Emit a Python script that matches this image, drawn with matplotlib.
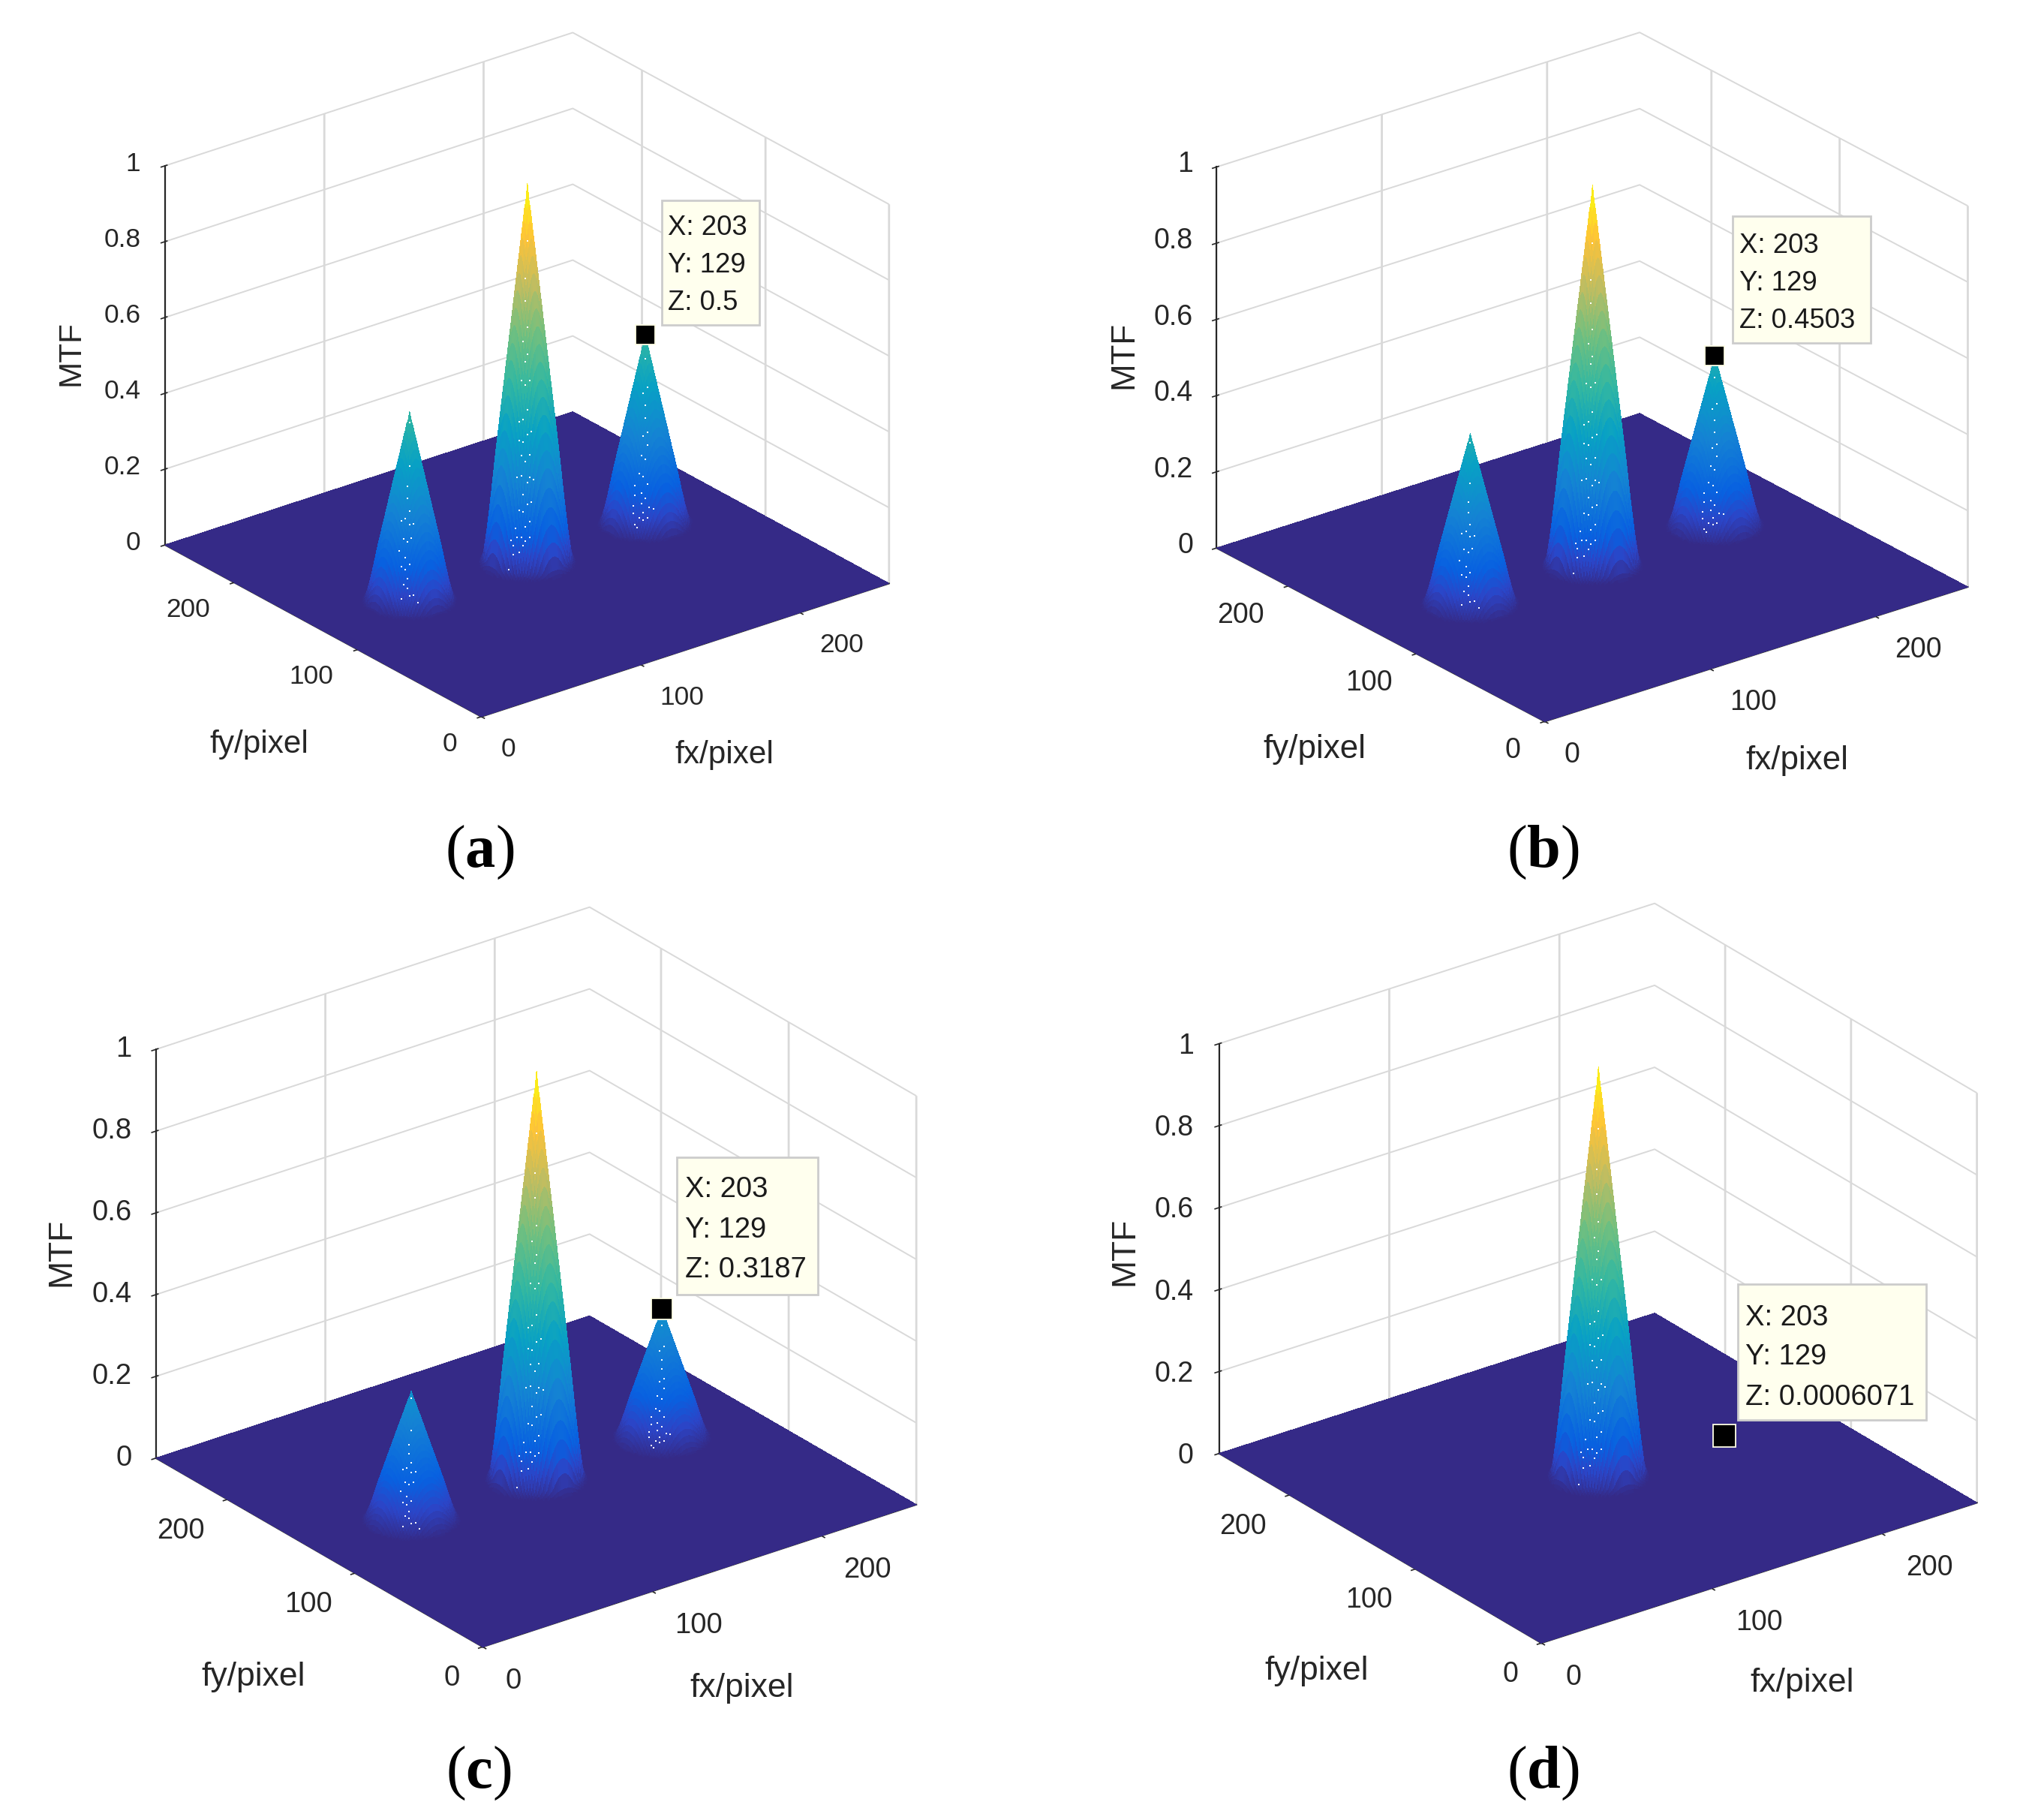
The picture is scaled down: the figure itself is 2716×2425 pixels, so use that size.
import numpy as np
import matplotlib
matplotlib.use('Agg')
import matplotlib.pyplot as plt
from matplotlib.colors import LinearSegmentedColormap
from matplotlib.patches import Rectangle
from mpl_toolkits.mplot3d import proj3d

plt.rcParams['font.family'] = ['Liberation Sans', 'DejaVu Sans']
plt.rcParams['mathtext.fontset'] = 'custom'
plt.rcParams['mathtext.rm'] = 'Liberation Serif'
plt.rcParams['mathtext.bf'] = 'Liberation Serif:bold'

W, H = 2716, 2425
S = 2716 / 1568

# ---- data ----
panel_names = ['a', 'b', 'c', 'd']
peak_x = [55, 129, 203]
peak_y = [129, 129, 129]
peak_a = [0.5, 1.0, 0.5]
peak_b = [0.4503, 1.0, 0.4503]
peak_c = [0.3187, 1.0, 0.3187]
peak_d = [0.0006071, 1.0, 0.0006071]
tip_z = [0.5, 0.4503, 0.3187, 0.0006071]
tip_text = ['0.5', '0.4503', '0.3187', '0.0006071']
tip_x, tip_y = 203, 129
radial_r = [0, 2, 4, 8, 12, 16, 18, 20, 22, 24]
radial_z = [1.0, 0.91, 0.82, 0.64, 0.46, 0.28, 0.18, 0.09, 0.02, 0.0]
ticks_xy = [0, 100, 200]
ticks_z = [0, 0.2, 0.4, 0.6, 0.8, 1]
tick_z_labels = ['0', '0.2', '0.4', '0.6', '0.8', '1']

# white specks on the cones: distance toward viewer, sideways offset
speck_center_r = [3.2, 5.2, 6.5, 8.0, 8.6, 9.5, 9.9, 10.6, 10.9, 11.2, 12.7, 12.6, 13.0, 13.8, 14.0, 13.7, 14.3, 14.9,
                  15.1, 15.6, 15.5, 16.0, 16.2, 16.3, 16.6, 17.1, 17.5, 17.6, 17.7, 18.0, 18.1, 18.0, 18.7, 18.6,
                  18.9, 18.9, 19.4, 19.3, 19.5, 19.8, 19.7, 19.9, 20.1]
speck_center_l = [0, -0.9, -0.9, 0, -2, 0, -0.9, -3, 1.2, -0.9, -4, 0, -2, -4, 0, 2, -2, -3,
                  1.2, -5, -0.9, -3, 3, 1.2, 0, -2, 2, -4, 0, -8.2, -6, -2, -7.2, 1.2,
                  -5, -0.9, -7.2, -3, 1.2, -9.2, -0.9, -2, -4]
speck_right_r = [2.5, 5.5, 6.1, 7.5, 8.9, 10.7, 10.3, 11.7, 12.7, 13.3, 14.5, 15.1, 15.3, 15.9, 16.3, 16.7, 17.1, 17.3,
                 17.7, 17.9, 17.9, 18.1, 18.7, 19.1, 19.3, 19.5, 19.5, 20.1]
speck_right_l = [0, 1, -1.2, 0, 0, -1.2, 1, 1, -2, 0, -3, -1, -5, 1, -5, -2, -6, 0,
                 -2, -6, 4, 2, -1, -3, 1, -5, -1, -4]
speck_left_r = [1.1, 5.8, 7.9, 9.2, 10.6, 11, 11.2, 12, 11.8, 13.2, 13.4, 13.8, 14, 15.4, 16, 16.2, 16.6, 17.6,
                18, 18.6, 19.4, 19.4, 19.2, 19.8]
speck_left_l = [0, 0, -1, -1, 0, -4, -2, 0, 2, -3, 1, -1, -5, -2, -4, 0, -2, -1,
                -3, -1, -4, 0, 2, 4]

parula = LinearSegmentedColormap.from_list('parula', [
    (0.0, (0.208, 0.166, 0.529)), (0.0625, (0.17, 0.27, 0.78)), (0.125, (0.03, 0.38, 0.88)),
    (0.25, (0.08, 0.51, 0.83)), (0.375, (0.03, 0.63, 0.77)), (0.5, (0.20, 0.72, 0.63)),
    (0.625, (0.44, 0.75, 0.50)), (0.75, (0.75, 0.74, 0.38)), (0.875, (1.0, 0.765, 0.216)),
    (1.0, (0.976, 0.983, 0.054))])

# ---- layout (measured at 1568 wide) ----
corner_left = [(127, 418), (936, 420), (120, 1122), (938, 1120)]
corner_right = [(684, 450), (1514, 453), (705, 1157), (1521, 1154)]
elevs = [24.9, 24.2, 25.8, 25.8]
azims = [-127.8, -127.8, -127.0, -126.5]
zratio = [0.81, 0.78, 0.836, 0.84]
tick_fs = [25.4, 27, 27.5, 27]
label_fs = [30.4, 31.6, 32, 32]
tip_fs = [26.3, 26.3, 27.5, 27.5]
tip_box = [(509, 154, 584, 250), (1333, 166, 1439, 264), (521, 890, 629, 996), (1337, 988, 1482, 1092)]
tip_lines = [(514, [175, 204, 233]), (1338, [189, 218, 247]), (527, [915, 946, 977]), (1343, [1014, 1044, 1075])]
tag_pos = [(369, 656), (1187, 656), (368, 1364), (1187, 1364)]
marker_size = [19, 19, 20, 22]
# label shifts at 1568 wide: right, down
x_tick_shift = [(6, 0), (6, 0), (8.5, 0), (10, 0)]
y_tick_shift = [(-7, -3), (-7, -2), (-6, -1), (-6, -1)]
z_tick_shift = [(3, -10), (4, -11), (3, -9), (2, -7)]
x_label_shift = [(-5, 8), (-4, 10), (-2, 12), (-1, 10)]
y_label_shift = [(-1, 15), (-2, 17), (-2, 22), (0, 21)]
z_label_shift = [(0, 2), (2, 2), (-1, 3), (-1, 7)]

fig = plt.figure(figsize=(W / 100, H / 100), dpi=100, facecolor='white')
gx = np.arange(0, 257)
gy = np.arange(0, 257)
X, Y = np.meshgrid(gx, gy)
peaks_all = [peak_a, peak_b, peak_c, peak_d]


def project(ax, p):
    px, py, _ = proj3d.proj_transform(p[0], p[1], p[2], ax.get_proj())
    return ax.transData.transform((px, py))


def fit(ax, target_l, target_r):
    side = 1000.0
    ax.set_position([0.1, 0.1, side / W, side / H])
    ax.apply_aspect()
    a = project(ax, (0, 256, 0))
    b = project(ax, (256, 0, 0))
    tl = np.array([target_l[0] * S, H - target_l[1] * S])
    tr = np.array([target_r[0] * S, H - target_r[1] * S])
    k = (tr[0] - tl[0]) / (b[0] - a[0])
    x0, y0 = 0.1 * W, 0.1 * H
    cx, cy = x0 + side / 2, y0 + side / 2
    mid_old = (a + b) / 2
    mid_new = (tl + tr) / 2
    new_side = side * k
    ncx = mid_new[0] - (mid_old[0] - cx) * k
    ncy = mid_new[1] - (mid_old[1] - cy) * k
    ax.set_position([(ncx - new_side / 2) / W, (ncy - new_side / 2) / H, new_side / W, new_side / H])
    ax.apply_aspect()


def nudge(ax, text, shift):
    """Offset a text that mplot3d re-places at draw time (shift in 1568-wide pixels: right, down)."""
    m = ax.transData.get_matrix()
    dx = shift[0] * S / m[0, 0]
    dy = -shift[1] * S / m[1, 1]
    orig = text.set_position
    text.set_position = lambda xy: orig((xy[0] + dx, xy[1] + dy))


for i, name in enumerate(panel_names):
    ax = fig.add_axes([0.1, 0.1, 0.5, 0.5], projection='3d', proj_type='ortho', computed_zorder=False)
    ax.patch.set_visible(False)
    ax.view_init(elev=elevs[i], azim=azims[i])
    ax.set_box_aspect((1, 1, zratio[i]))
    ax.set_xlim(0, 256, view_margin=0)
    ax.set_ylim(0, 256, view_margin=0)
    ax.set_zlim(0, 1, view_margin=0)
    ax.set_xticks(ticks_xy)
    ax.set_yticks(ticks_xy)
    ax.set_zticks(ticks_z)
    ax.set_zticklabels(tick_z_labels)

    for axis in (ax.xaxis, ax.yaxis, ax.zaxis):
        axis.set_pane_color((1, 1, 1, 0))
        axis.pane.set_edgecolor('#d9d9d9')
        axis.pane.set_linewidth(1.4)
        axis.line.set_color('#262626')
        axis.line.set_linewidth(1.5)
        axis._axinfo['grid'].update(color='#d9d9d9', linewidth=1.4 if axis is ax.zaxis else 2.0, linestyle='-')
        axis._axinfo['tick'].update(inward_factor=0.12, outward_factor=0.06, linewidth={True: 1.2, False: 1.0},
                                    color='#262626')
    ax.zaxis.set_ticks_position('upper')
    ax.zaxis.set_label_position('upper')

    ax.tick_params(axis='both', labelsize=tick_fs[i], colors='#262626', pad=7)
    ax.tick_params(axis='z', pad=8)
    for axis, lab, pad, rot in ((ax.xaxis, 'fx/pixel', 38, 0), (ax.yaxis, 'fy/pixel', 42, 0), (ax.zaxis, 'MTF', 32, 90)):
        axis.set_rotate_label(False)
        axis.set_label_text(lab, fontsize=label_fs[i], color='#262626', rotation=rot)
        axis.labelpad = pad
    ax.xaxis._axinfo['label'].update(va='top')
    ax.yaxis._axinfo['label'].update(va='top')

    Z = np.zeros_like(X, dtype=float)
    for px, py, h in zip(peak_x, peak_y, peaks_all[i]):
        r = np.hypot(X - px, Y - py)
        Z = np.maximum(Z, h * np.interp(r, radial_r, radial_z))
    ax.plot_surface(X, Y, Z, cmap=parula, vmin=0, vmax=1, rstride=1, cstride=1, shade=False,
                    linewidth=0, antialiased=False, zorder=1)

    # white specks
    az = np.deg2rad(azims[i])
    front = np.array([np.cos(az), np.sin(az)])
    side_v = np.array([-np.sin(az), np.cos(az)])
    for cone, (rr, ll) in enumerate(((speck_left_r, speck_left_l), (speck_center_r, speck_center_l),
                                     (speck_right_r, speck_right_l))):
        if peaks_all[i][cone] < 0.01:
            continue
        rr = np.array(rr)
        ll = np.array(ll)
        sx = peak_x[cone] + rr * front[0] + ll * side_v[0]
        sy = peak_y[cone] + rr * front[1] + ll * side_v[1]
        sz = peaks_all[i][cone] * np.interp(np.hypot(rr, ll), radial_r, radial_z)
        ax.scatter(sx, sy, sz, marker='s', s=4.5, c='white', linewidths=0, depthshade=False, zorder=2)

    # data tip marker
    ax.plot([tip_x], [tip_y], [tip_z[i]], marker='s', ms=marker_size[i], mfc='black', mec='#FFFFE6', mew=1.3,
            ls='none', zorder=3)

    fit(ax, corner_left[i], corner_right[i])

    for t in ax.xaxis.get_major_ticks():
        t.label1.set_ha('left')
        nudge(ax, t.label1, x_tick_shift[i])
    for t in ax.yaxis.get_major_ticks():
        t.label1.set_ha('right')
        nudge(ax, t.label1, y_tick_shift[i])
    for t in ax.zaxis.get_major_ticks():
        t.label1.set_ha('right')
        t.label2.set_ha('right')
        nudge(ax, t.label1, z_tick_shift[i])
        nudge(ax, t.label2, z_tick_shift[i])
    nudge(ax, ax.xaxis.label, x_label_shift[i])
    nudge(ax, ax.yaxis.label, y_label_shift[i])
    nudge(ax, ax.zaxis.label, z_label_shift[i])

    # data tip box
    x0, y0, x1, y1 = tip_box[i]
    fig.add_artist(Rectangle((x0 * S / W, 1 - y1 * S / H), (x1 - x0) * S / W, (y1 - y0) * S / H,
                             transform=fig.transFigure, facecolor='#FFFFEE', edgecolor='#CCCCCC', linewidth=2,
                             zorder=5))
    tx, tys = tip_lines[i]
    for ty, line in zip(tys, ('X: %d' % tip_x, 'Y: %d' % tip_y, 'Z: ' + tip_text[i])):
        fig.text(tx * S / W, 1 - ty * S / H, line, fontsize=tip_fs[i], color='#1a1a1a', ha='left', va='center',
                 zorder=6)

    tx, ty = tag_pos[i]
    fig.text(tx * S / W, 1 - ty * S / H, r'$(\mathbf{%s})$' % name, fontsize=58, color='black', ha='center',
             va='center', zorder=6)

fig.savefig('out.png', dpi=100, facecolor='white')
